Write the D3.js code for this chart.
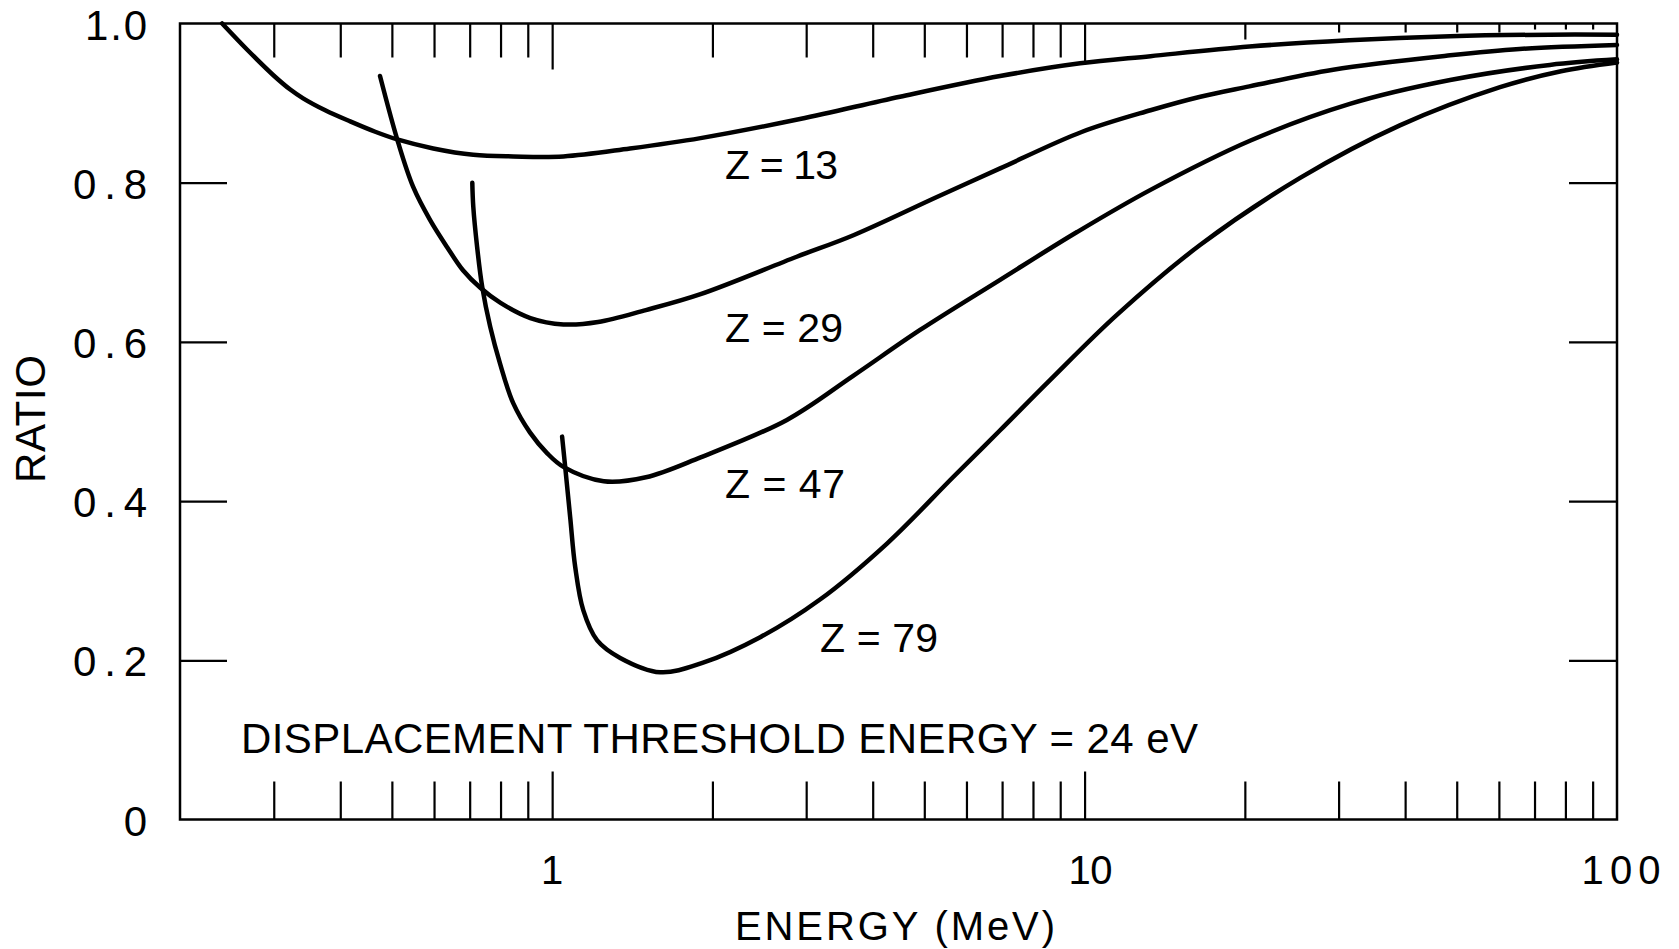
<!DOCTYPE html>
<html><head><meta charset="utf-8">
<script src="https://cdn.jsdelivr.net/npm/d3@7"></script>
<style>html,body{margin:0;padding:0;background:#fff;} svg{display:block;}</style>
</head><body>
<svg id="chart" width="1679" height="949"></svg>
<script>
// ---- data (energy in MeV, ratio) ----
const seriesNames = ["Z = 13", "Z = 29", "Z = 47", "Z = 79"];
const curveZ13 = [[0.240,1.0],[0.2675,0.967],[0.2995,0.935],[0.3222,0.917],[0.3406,0.906],[0.3748,0.891],[0.4175,0.877],[0.4652,0.864],[0.5137,0.854],[0.598,0.843],[0.711,0.835],[0.845,0.833],[1.05,0.833],[1.40,0.843],[1.90,0.856],[2.92,0.880],[4.50,0.908],[6.94,0.934],[9.81,0.950],[13.3,0.959],[20.4,0.971],[31.4,0.979],[48.6,0.984],[74.8,0.986],[100,0.986]];
const curveZ29 = [[0.475,0.934],[0.514,0.850],[0.548,0.795],[0.59,0.753],[0.635,0.719],[0.68,0.690],[0.733,0.668],[0.80,0.649],[0.91,0.630],[1.05,0.622],[1.22,0.625],[1.5,0.640],[1.9,0.660],[2.88,0.707],[3.68,0.734],[5.28,0.782],[6.94,0.818],[9.9,0.864],[13.3,0.891],[16.5,0.908],[20.4,0.921],[29.3,0.942],[48.6,0.960],[65.6,0.968],[100,0.973]];
const curveZ47 = [[0.708,0.800],[0.711,0.770],[0.723,0.719],[0.739,0.669],[0.765,0.619],[0.798,0.573],[0.845,0.523],[0.909,0.486],[0.979,0.460],[1.05,0.443],[1.25,0.425],[1.5,0.430],[1.9,0.455],[2.76,0.502],[3.67,0.557],[4.91,0.615],[6.94,0.678],[9.68,0.738],[13.3,0.791],[20.5,0.853],[31.5,0.899],[48.6,0.929],[74.8,0.948],[100,0.955]];
const curveZ79 = [[1.044,0.481],[1.058,0.443],[1.081,0.380],[1.105,0.317],[1.144,0.263],[1.215,0.225],[1.342,0.203],[1.595,0.185],[1.921,0.197],[2.459,0.229],[3.18,0.276],[4.26,0.347],[5.66,0.430],[6.94,0.489],[8.61,0.552],[11.5,0.634],[16.5,0.722],[25.4,0.806],[39.1,0.872],[60.3,0.920],[78.5,0.940],[100,0.951]];
const xMinorTicks = [0.3,0.4,0.5,0.6,0.7,0.8,0.9,2,3,4,5,6,7,8,9,20,30,40,50,60,70,80,90];
const xMajorTicks = [1,10];
const xLabelValues = [1,10,100];
const yTickValues = [0.2,0.4,0.6,0.8];
const yLabelValues = [0,0.2,0.4,0.6,0.8,1.0];
const xTitle = "ENERGY (MeV)";
const yTitle = "RATIO";
const noteText = "DISPLACEMENT THRESHOLD ENERGY = 24 eV";

// ---- layout ----
const L = 180, R = 1617, T = 23.5, B = 819.5;
const FONT = "'Liberation Sans', Arial, sans-serif";
const svg = d3.select("#chart");
const x = d3.scaleLog().domain([0.2,100]).range([L,R]);
const y = d3.scaleLinear().domain([0,1]).range([B,T]);

// frame
svg.append("rect").attr("x",L).attr("y",T).attr("width",R-L).attr("height",B-T)
  .attr("fill","none").attr("stroke","#000").attr("stroke-width",2.5);

// bottom ticks (inward)
const bottomAxis = svg.append("g").attr("transform",`translate(0,${B})`)
  .call(d3.axisBottom(x).tickValues(xMinorTicks.concat(xMajorTicks)).tickSizeInner(-38).tickSizeOuter(0).tickFormat(""));
bottomAxis.select(".domain").remove();
bottomAxis.selectAll(".tick line").attr("stroke","#000").attr("stroke-width",2.2)
  .attr("y2", d => xMajorTicks.includes(d) ? -48 : -38);

// top ticks (inward)
const topLen = d => d === 1 ? 46 : d === 10 ? 41 : d === 20 ? 16 : d >= 30 ? (d >= 70 ? 6 : 9) : 34;
const topAxis = svg.append("g").attr("transform",`translate(0,${T})`)
  .call(d3.axisTop(x).tickValues(xMinorTicks.concat(xMajorTicks)).tickSizeInner(-34).tickSizeOuter(0).tickFormat(""));
topAxis.select(".domain").remove();
topAxis.selectAll(".tick line").attr("stroke","#000").attr("stroke-width",2.2).attr("y2", d => topLen(d));

// left / right ticks
const leftAxis = svg.append("g").attr("transform",`translate(${L},0)`)
  .call(d3.axisLeft(y).tickValues(yTickValues).tickSizeInner(-47).tickSizeOuter(0).tickFormat(""));
leftAxis.select(".domain").remove();
leftAxis.selectAll(".tick line").attr("stroke","#000").attr("stroke-width",2.2);
const rightAxis = svg.append("g").attr("transform",`translate(${R},0)`)
  .call(d3.axisRight(y).tickValues(yTickValues).tickSizeInner(-48).tickSizeOuter(0).tickFormat(""));
rightAxis.select(".domain").remove();
rightAxis.selectAll(".tick line").attr("stroke","#000").attr("stroke-width",2.2);

// y tick labels
const yFmt = d => d === 0 ? "0" : d3.format(".1f")(d);
svg.append("g").selectAll("text").data(yLabelValues).join("text")
  .attr("x", 147).attr("y", d => y(d) + 16)
  .attr("text-anchor","end").attr("font-family",FONT).attr("font-size",42)
  .attr("textLength", d => d === 0 ? 25 : d === 1 ? 62 : 74).attr("lengthAdjust","spacing")
  .text(yFmt);

// x tick labels
const xLabelW = {1: 12, 10: 44, 100: 79};
svg.append("g").selectAll("text").data(xLabelValues).join("text")
  .attr("x", d => x(d) + (d === 10 ? 6 : d === 100 ? 4 : 0)).attr("y", 884)
  .attr("text-anchor","middle").attr("font-family",FONT).attr("font-size",40)
  .attr("textLength", d => xLabelW[d]).attr("lengthAdjust","spacing")
  .text(d => String(d));

// axis titles
svg.append("text").attr("x", 895).attr("y", 940).attr("text-anchor","middle")
  .attr("font-family",FONT).attr("font-size",40).attr("textLength",320).attr("lengthAdjust","spacing")
  .text(xTitle);
svg.append("text").attr("transform","translate(45,419) rotate(-90)").attr("text-anchor","middle")
  .attr("font-family",FONT).attr("font-size",42).attr("textLength",128).attr("lengthAdjust","spacing")
  .text(yTitle);

// note
svg.append("text").attr("x", 241).attr("y", 753).attr("font-family",FONT).attr("font-size",42)
  .attr("textLength",957).attr("lengthAdjust","spacing").text(noteText);

// curves
const line = d3.line().x(d => x(d[0])).y(d => y(d[1])).curve(d3.curveCatmullRom.alpha(0.5));
const curves = [curveZ13, curveZ29, curveZ47, curveZ79];
svg.append("g").selectAll("path").data(curves).join("path")
  .attr("d", line).attr("fill","none").attr("stroke","#000").attr("stroke-width",4.5)
  .attr("stroke-linecap","round").attr("stroke-linejoin","round");

// curve labels
const labelPos = [[725,179,113],[725,342,118],[725,498,120],[820,652,118]];
svg.append("g").selectAll("text").data(seriesNames).join("text")
  .attr("x", (d,i) => labelPos[i][0]).attr("y", (d,i) => labelPos[i][1])
  .attr("font-family",FONT).attr("font-size",41)
  .attr("textLength", (d,i) => labelPos[i][2]).attr("lengthAdjust","spacing")
  .text(d => d);
</script>
</body></html>
